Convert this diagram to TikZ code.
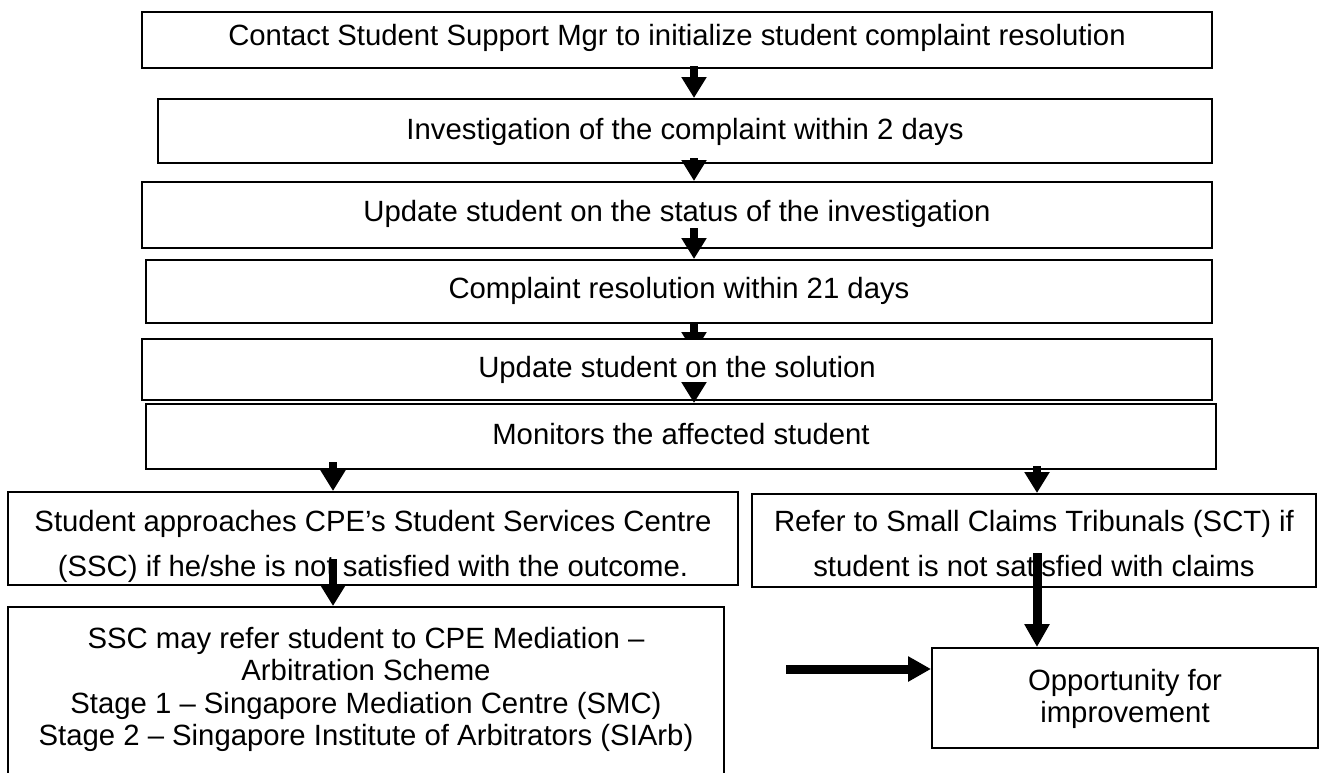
\documentclass[tikz,border=0pt]{standalone}
\usepackage{fontspec}
\setmainfont{Liberation Sans}
\usetikzlibrary{arrows.meta,calc}
\pgfdeclarelayer{back}
\pgfsetlayers{back,main}
\begin{document}
\begin{tikzpicture}[x=1pt,y=1pt,
  frame/.style={draw=black, line width=2pt, fill=white, inner sep=0pt},
  steptext/.style={align=center, inner sep=0pt, font=\fontsize{29.3}{45}\selectfont},
  flow/.style={line width=8pt, -{Triangle[width=24pt,length=21pt]}},
  bigflow/.style={line width=9pt, -{Triangle[width=24pt,length=23pt]}}]
\useasboundingbox (0,0) rectangle (1323,-772);
\clip (0,0) rectangle (1323,-772);

% frames of the steps
\node[frame, minimum width=1070pt, minimum height=56pt] (b1) at (677,-40) {};
\node[frame, minimum width=1054pt, minimum height=64pt] (b2) at (685,-131) {};
\node[frame, minimum width=1070pt, minimum height=66pt] (b3) at (677,-215) {};
\node[frame, minimum width=1066pt, minimum height=63pt] (b4) at (679,-291.5) {};
\node[frame, minimum width=1070pt, minimum height=61pt] (b5) at (677,-369.5) {};
\node[frame, minimum width=1070pt, minimum height=65pt] (b6) at (681,-436.5) {};
\node[frame, minimum width=730pt, minimum height=93pt] (b7) at (373,-538.5) {};
\node[frame, minimum width=564pt, minimum height=93pt] (b8) at (1034,-540.5) {};
\node[frame, minimum width=716pt, minimum height=190pt] (b9) at (366,-702) {};
\node[frame, minimum width=386pt, minimum height=100pt] (b10) at (1125,-698) {};

% texts of the steps
\node[steptext] (t1) at (677,-38)
  {Contact Student Support Mgr to initialize student complaint resolution};
\node[steptext] (t2) at (685,-132) {Investigation of the complaint within 2 days};
\node[steptext] (t3) at (677,-214) {Update student on the status of the investigation};
\node[steptext] (t4) at (679,-291) {Complaint resolution within 21 days};
\node[steptext] (t5) at (677,-370) {Update student on the solution};
\node[steptext] (t6) at (681,-434) {Monitors the affected student};
\node[steptext] (t7) at (373,-546)
  {Student approaches CPE’s Student Services Centre\\(SSC) if he/she is not satisfied with the outcome.};
\node[steptext] (t8) at (1034,-544)
  {Refer to Small Claims Tribunals (SCT) if\\student is not satisfied with claims};
\node[steptext, font=\fontsize{29.3}{32.3}\selectfont] (t9) at (366,-689.5)
  {SSC may refer student to CPE Mediation –\\Arbitration Scheme\\Stage 1 – Singapore Mediation Centre (SMC)\\Stage 2 – Singapore Institute of Arbitrators (SIArb)};
\node[steptext, font=\fontsize{29.3}{32.5}\selectfont] (t10) at (1125,-699)
  {Opportunity for\\improvement};

% arrow columns
\coordinate (mx) at (694,0);
\coordinate (lx) at (333,0);
\coordinate (rx) at (1037,0);
\coordinate (hs) at (786,-669);

\begin{pgfonlayer}{back}
  \draw[flow] (b4.south -| mx) -- ($(b5.north -| mx)+(0,-15)$);
\end{pgfonlayer}
\draw[flow] ($(b1.south -| mx)+(0,3)$) -- (b2.north -| mx);
\draw[flow] ($(b2.south -| mx)+(0,6)$) -- (b3.north -| mx);
\draw[flow] ($(b3.south -| mx)+(0,21)$) -- (b4.north -| mx);
\draw[flow] ($(b5.south -| mx)+(0,17)$) -- (b6.north -| mx);
\draw[flow] ($(b6.south -| lx)+(0,8)$) -- (b7.north -| lx);
\draw[flow] ($(b7.south -| lx)+(0,27)$) -- (b9.north -| lx);
\draw[flow] ($(b6.south -| rx)+(0,4)$) -- (b8.north -| rx);
\draw[bigflow] ($(b8.south -| rx)+(0,35)$) -- (b10.north -| rx);
\draw[bigflow] (hs) -- (b10.west |- hs);
\end{tikzpicture}
\end{document}
